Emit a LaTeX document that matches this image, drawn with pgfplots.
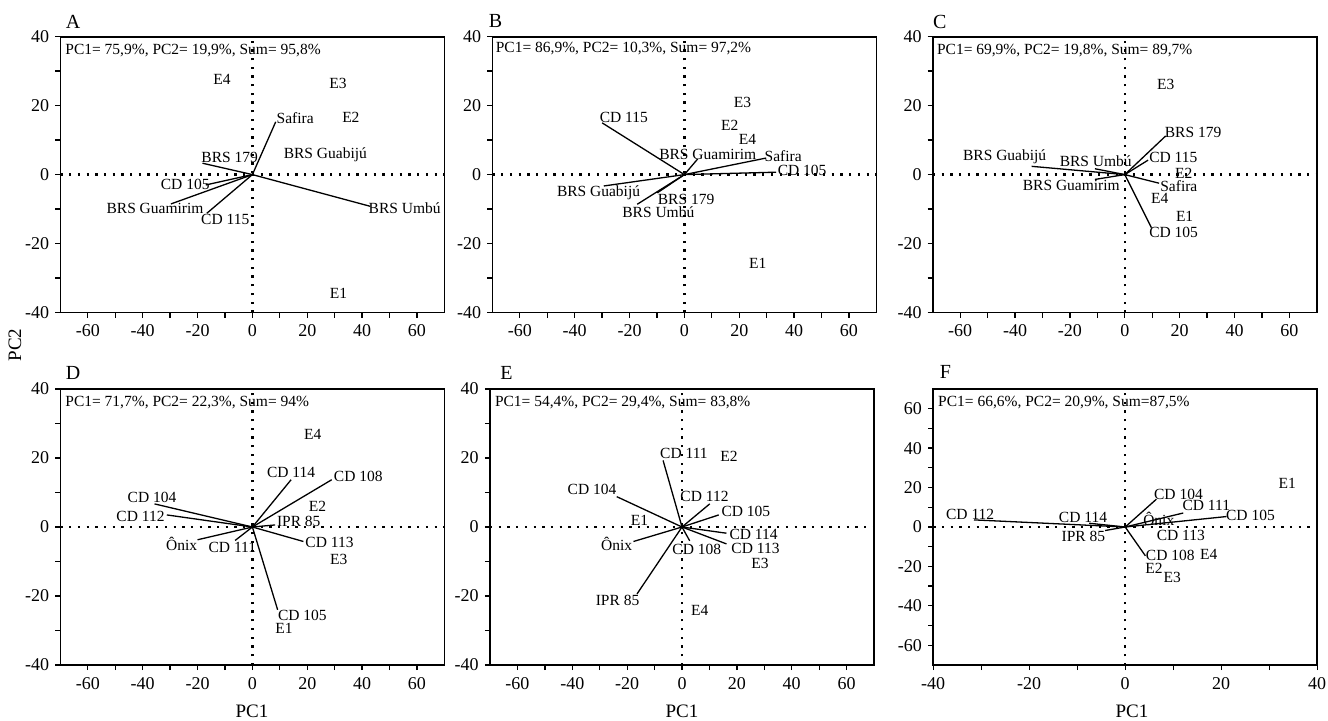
\documentclass[border=0pt]{standalone}
\usepackage{pgfplots}
\pgfplotsset{compat=1.18}
\usepackage{fontspec}
\setmainfont{Liberation Serif}
\newcommand{\lblfont}{\fontsize{7.75}{8.5}\selectfont}
\newcommand{\tickfont}{\fontsize{9}{10}\selectfont}
\pgfplotsset{
  pca/.style={
    width=192pt, height=138pt, scale only axis,
    xmin=-70, xmax=70, ymin=-40, ymax=40,
    xtick={-60,-40,-20,0,20,40,60}, xticklabels={-60,-40,-20,0,20,40,60},
    ytick={-40,-20,0,20,40}, yticklabels={-40,-20,0,20,40},
    minor x tick num=1, minor y tick num=1,
    tick align=outside, xtick pos=left, ytick pos=left,
    major tick length=2.6pt, minor tick length=2.6pt,
    tick style={black, line width=0.65pt},
    axis line style={line width=0.9pt},
    ticklabel style={font=\tickfont},
    yticklabel style={xshift=0.5pt},
    clip=false,
  },
  dotax/.style={black, line width=1.15pt, dash pattern=on 1.15pt off 3.2pt},
  vec/.style={black, line width=0.65pt, quiver={u=\thisrow{u}, v=\thisrow{v}}},
  lab/.style={draw=none, mark=none, nodes near coords, point meta=explicit symbolic,
    every node near coord/.append style={anchor=center, font=\lblfont, inner sep=0pt}},
}
\begin{document}
\begin{tikzpicture}
\path[use as bounding box] (0,0) rectangle (664pt,360.5pt);

% ---------------- A ----------------
\begin{axis}[pca, at={(30.2pt,204.2pt)}, anchor=south west]
\addplot[dotax] coordinates {(-70,0) (70,0)};
\addplot[dotax] coordinates {(0,-40) (0,40)};
\addplot[vec] table[x expr=0, y expr=0] {
u v
8.5 15.3
-18.2 3.3
-17.0 -3.0
-29.7 -8.5
-16.6 -11.2
43.0 -9.2
};
\addplot[lab] table[col sep=comma, x=x, y=y, meta=t] {
x,y,t
15.6,16.5,Safira
35.9,16.5,E2
31.2,26.5,E3
-11.1,27.5,E4
26.6,5.7,BRS Guabijú
-8.3,5.0,BRS 179
-24.5,-2.8,CD 105
-35.5,-9.7,BRS Guamirim
-9.9,-13.1,CD 115
55.5,-9.7,BRS Umbú
31.4,-34.4,E1
};
\node[anchor=north west, font=\lblfont, inner sep=0pt] at (rel axis cs:0.012,0.975) {PC1= 75,9\%, PC2= 19,9\%, Sum= 95,8\%};
\node[anchor=base west, font=\fontsize{10}{12}\selectfont, inner sep=0pt] at (rel axis cs:0.013,1) [yshift=4pt] {A};
\end{axis}

% ---------------- B ----------------
\begin{axis}[pca, at={(246.2pt,204.2pt)}, anchor=south west]
\addplot[dotax] coordinates {(-70,0) (70,0)};
\addplot[dotax] coordinates {(0,-40) (0,40)};
\addplot[vec] table[x expr=0, y expr=0] {
u v
-30.0 15.0
4.8 4.5
29.8 4.8
33.4 0.7
-29.4 -3.3
-17.2 -8.6
-9.9 -5.3
};
\addplot[lab] table[col sep=comma, x=x, y=y, meta=t] {
x,y,t
-22.1,16.5,CD 115
21.2,20.8,E3
16.5,14.4,E2
23.0,10.2,E4
8.5,5.9,BRS Guamirim
36.0,5.3,Safira
42.9,1.1,CD 105
-31.3,-5.3,BRS Guabijú
0.6,-7.2,BRS 179
-9.5,-10.9,BRS Umbú
26.7,-25.8,E1
};
\node[anchor=north west, font=\lblfont, inner sep=0pt] at (rel axis cs:0.008,0.98) {PC1= 86,9\%, PC2= 10,3\%, Sum= 97,2\%};
\node[anchor=base west, font=\fontsize{10}{12}\selectfont, inner sep=0pt] at (rel axis cs:-0.01,1) [yshift=4.5pt] {B};
\end{axis}

% ---------------- C ----------------
\begin{axis}[pca, at={(466.4pt,204.2pt)}, anchor=south west]
\addplot[dotax] coordinates {(-70,0) (70,0)};
\addplot[dotax] coordinates {(0,-40) (0,40)};
\addplot[vec] table[x expr=0, y expr=0] {
u v
14.9 11.2
8.5 4.2
-10.9 1.7
-34.0 2.4
-10.9 -1.4
12.5 -2.5
9.7 -15.4
};
\addplot[lab] table[col sep=comma, x=x, y=y, meta=t] {
x,y,t
14.9,26.0,E3
24.9,12.3,BRS 179
17.7,5.0,CD 115
-43.8,5.2,BRS Guabijú
-10.6,4.0,BRS Umbú
21.5,0.5,E2
-19.5,-3.0,BRS Guamirim
19.7,-3.3,Safira
12.7,-7.0,E4
21.8,-12.1,E1
17.8,-16.7,CD 105
};
\node[anchor=north west, font=\lblfont, inner sep=0pt] at (rel axis cs:0.01,0.975) {PC1= 69,9\%, PC2= 19,8\%, Sum= 89,7\%};
\node[anchor=base west, font=\fontsize{10}{12}\selectfont, inner sep=0pt] at (rel axis cs:0.0,1) [yshift=4pt] {C};
\end{axis}

% ---------------- D ----------------
\begin{axis}[pca, at={(30.2pt,28pt)}, anchor=south west]
\addplot[dotax] coordinates {(-70,0) (70,0)};
\addplot[dotax] coordinates {(0,-40) (0,40)};
\addplot[vec] table[x expr=0, y expr=0] {
u v
14.1 13.7
28.9 13.7
-35.7 6.7
-31.2 3.5
8.3 0.6
18.6 -4.2
-20.0 -3.7
-6.3 -3.9
9.2 -24.0
};
\addplot[lab] table[col sep=comma, x=x, y=y, meta=t] {
x,y,t
22.0,26.7,E4
14.1,15.9,CD 114
38.6,14.7,CD 108
-36.6,8.7,CD 104
23.7,5.9,E2
-40.8,3.0,CD 112
16.9,1.6,IPR 85
-25.8,-4.9,Ônix
-7.3,-5.9,CD 111
28.1,-4.4,CD 113
31.5,-9.5,E3
18.2,-25.5,CD 105
11.5,-29.4,E1
};
\node[anchor=north west, font=\lblfont, inner sep=0pt] at (rel axis cs:0.012,0.975) {PC1= 71,7\%, PC2= 22,3\%, Sum= 94\%};
\node[anchor=base west, font=\fontsize{10}{12}\selectfont, inner sep=0pt] at (rel axis cs:0.013,1) [yshift=5pt] {D};
\end{axis}

% ---------------- E ----------------
\begin{axis}[pca, at={(245pt,28pt)}, anchor=south west]
\addplot[dotax] coordinates {(-70,0) (70,0)};
\addplot[dotax] coordinates {(0,-40) (0,40)};
\addplot[vec] table[x expr=0, y expr=0] {
u v
-6.9 19.3
-23.8 8.8
10.1 6.7
13.4 3.5
16.2 -1.8
16.2 -4.9
2.8 -4.0
-17.7 -4.2
-16.4 -19.4
};
\addplot[lab] table[col sep=comma, x=x, y=y, meta=t] {
x,y,t
0.7,21.4,CD 111
17.1,20.4,E2
-32.8,10.8,CD 104
8.2,8.8,CD 112
23.3,4.5,CD 105
-15.5,1.9,E1
26.1,-2.1,CD 114
-23.8,-4.9,Ônix
5.4,-6.6,CD 108
26.8,-6.1,CD 113
28.4,-10.5,E3
-23.5,-21.4,IPR 85
6.5,-24.2,E4
};
\node[anchor=north west, font=\lblfont, inner sep=0pt] at (rel axis cs:0.012,0.975) {PC1= 54,4\%, PC2= 29,4\%, Sum= 83,8\%};
\node[anchor=base west, font=\fontsize{10}{12}\selectfont, inner sep=0pt] at (rel axis cs:0.026,1) [yshift=5pt] {E};
\node[font=\fontsize{9.5}{11}\selectfont, inner sep=0pt] at (rel axis cs:0.5,0) [yshift=-23pt] {PC1};
\end{axis}

% ---------------- F ----------------
\begin{axis}[pca, at={(466.6pt,28pt)}, anchor=south west,
  xmin=-40, xmax=40, ymin=-70, ymax=70,
  xtick={-40,-20,0,20,40}, xticklabels={-40,-20,0,20,40},
  ytick={-60,-40,-20,0,20,40,60}, yticklabels={-60,-40,-20,0,20,40,60}]
\addplot[dotax] coordinates {(-40,0) (40,0)};
\addplot[dotax] coordinates {(0,-70) (0,70)};
\addplot[vec] table[x expr=0, y expr=0] {
u v
-31.5 3.6
-7.5 1.9
-4.2 -1.8
6.5 14.1
12.1 7.1
21.1 5.3
4.2 -14.6
};
\addplot[lab] table[col sep=comma, x=x, y=y, meta=t] {
x,y,t
33.75,22.3,E1
11.1,16.3,CD 104
16.9,10.8,CD 111
-32.3,6.2,CD 112
-8.8,5.0,CD 114
7.0,4.2,Ônix
26.1,5.7,CD 105
-8.7,-4.8,IPR 85
11.6,-4.5,CD 113
9.4,-14.5,CD 108
17.4,-14.1,E4
6.0,-20.9,E2
9.8,-25.6,E3
};
\node[anchor=north west, font=\lblfont, inner sep=0pt] at (rel axis cs:0.012,0.975) {PC1= 66,6\%, PC2= 20,9\%, Sum=87,5\%};
\node[anchor=base west, font=\fontsize{10}{12}\selectfont, inner sep=0pt] at (rel axis cs:0.016,1) [yshift=5pt] {F};
\end{axis}

% axis titles
\node[font=\fontsize{9.5}{11}\selectfont, inner sep=0pt] at (126pt,5pt) {PC1};
\node[font=\fontsize{9.5}{11}\selectfont, inner sep=0pt] at (566pt,5pt) {PC1};
\node[font=\fontsize{9.5}{11}\selectfont, inner sep=0pt, rotate=90] at (7.5pt,188pt) {PC2};
\end{tikzpicture}
\end{document}
